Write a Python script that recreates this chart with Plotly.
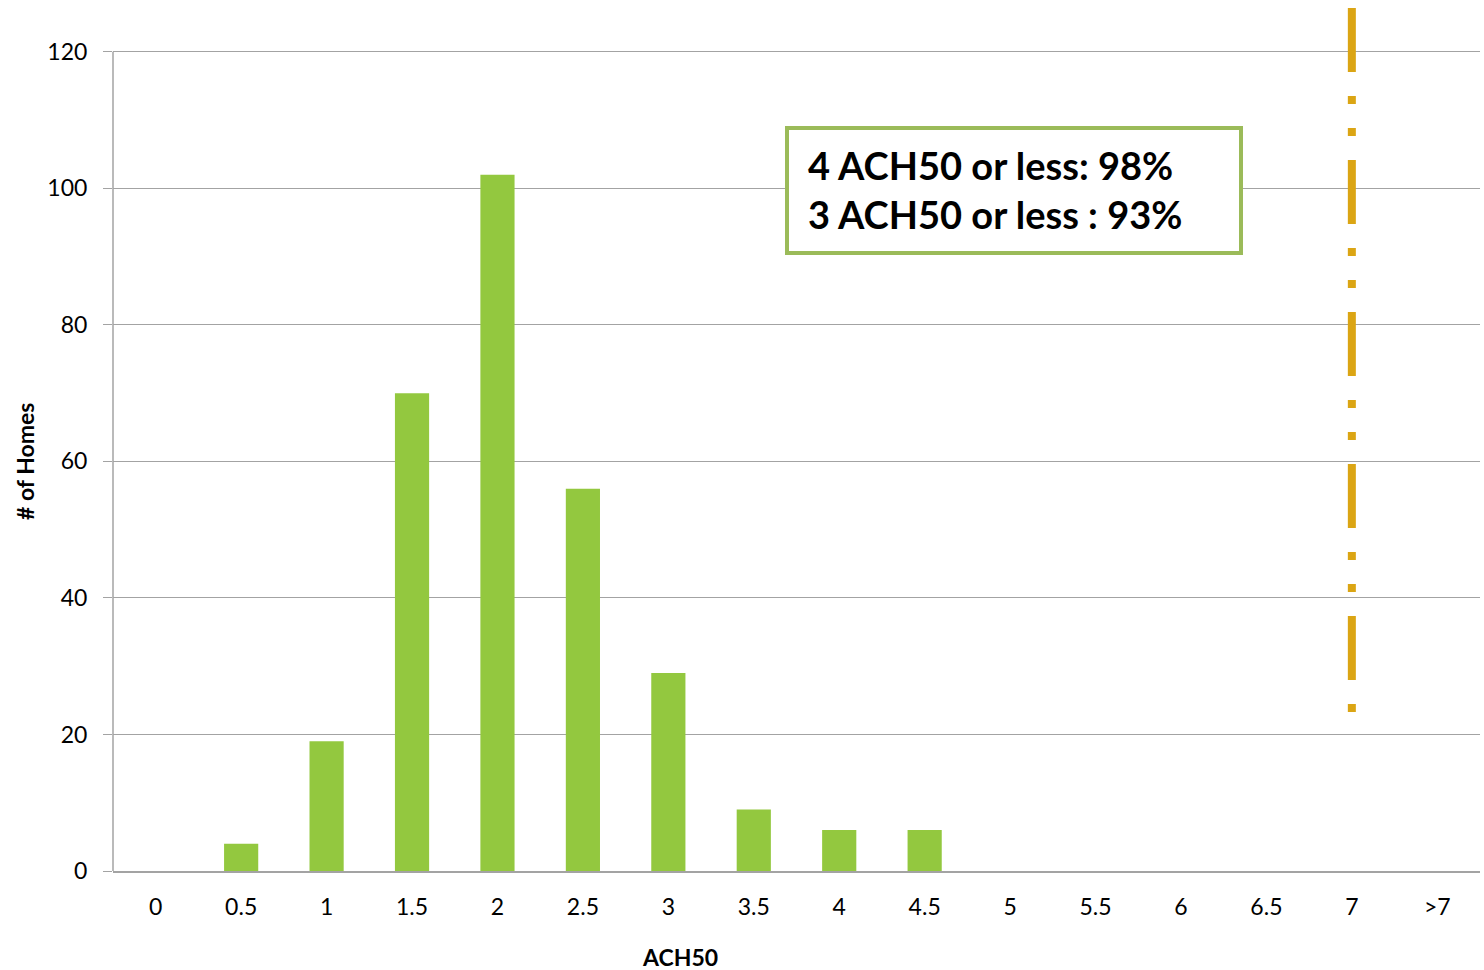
import plotly.graph_objects as go

categories = ["0", "0.5", "1", "1.5", "2", "2.5", "3", "3.5", "4", "4.5",
              "5", "5.5", "6", "6.5", "7", ">7"]
homes = [0, 4, 19, 70, 102, 56, 29, 9, 6, 6, 0, 0, 0, 0, 0, 0]
y_ticks = [0, 20, 40, 60, 80, 100, 120]
marker_x = ["7", "7"]
marker_y = [126.4, 23.2]
box_lines = ["4 ACH50 or less: 98%", "3 ACH50 or less : 93%"]

FONT = "Lato, 'Open Sans', sans-serif"
GRID = "#a3a3a3"
L, R, T, B, W, H = 113, 4, 4, 99, 1484, 970
PW, PH = W - L - R, H - T - B


def px(xp):
    return (xp - L) / PW


def py(yp):
    return (H - B - yp) / PH


fig = go.Figure()
fig.add_trace(go.Bar(x=categories, y=homes, marker_color="#93c83f",
                     marker_line_width=0, showlegend=False))
fig.add_trace(go.Scatter(x=marker_x, y=marker_y, mode="lines",
                         line=dict(color="#dba514", width=8,
                                   dash="64px,24px,8px,24px,8px,24px"),
                         showlegend=False))

fig.update_layout(
    width=W, height=H,
    margin=dict(l=L, r=R, t=T, b=B),
    paper_bgcolor="white", plot_bgcolor="white",
    bargap=0.6,
    font=dict(family=FONT, size=23, color="#000000"),
    xaxis=dict(type="category", categoryorder="array", categoryarray=categories,
               showline=True, linecolor=GRID, linewidth=1.5, ticks="",
               showgrid=False, ticklabelstandoff=15,
               tickfont=dict(size=23, family=FONT)),
    yaxis=dict(range=[0, 127], tickvals=y_ticks, showline=False,
               showgrid=True, gridcolor=GRID, gridwidth=1,
               ticks="outside", ticklen=9, tickcolor=GRID, tickwidth=1.2,
               ticklabelstandoff=11,
               zeroline=False, tickfont=dict(size=23, family=FONT)),
    shapes=[
        dict(type="line", xref="paper", yref="y", x0=0, x1=0, y0=0, y1=120,
             line=dict(color=GRID, width=1.5), layer="above"),
        dict(type="rect", xref="paper", yref="paper",
             x0=px(787), x1=px(1241), y0=py(253), y1=py(128),
             line=dict(color="#9bbb59", width=4), fillcolor="white",
             layer="above"),
    ],
    annotations=[
        dict(text="<b>ACH50</b>", xref="paper", yref="paper",
             x=px(680), y=py(957), xanchor="center",
             yanchor="middle", showarrow=False, font=dict(size=23, family=FONT)),
        dict(text="<b># of Homes</b>", xref="paper", yref="paper",
             x=px(25), y=py(462), xanchor="center", yanchor="middle",
             textangle=-90, showarrow=False, font=dict(size=23, family=FONT)),
        dict(text="<b>" + "<br>".join(box_lines) + "</b>",
             xref="paper", yref="paper",
             x=px(806), y=py(190),
             xanchor="left", yanchor="middle", align="left",
             showarrow=False, font=dict(size=38, family=FONT, color="black")),
    ],
)

fig.write_html("out.html", config={"displayModeBar": False},
               post_script="document.body.style.margin='0px';")
